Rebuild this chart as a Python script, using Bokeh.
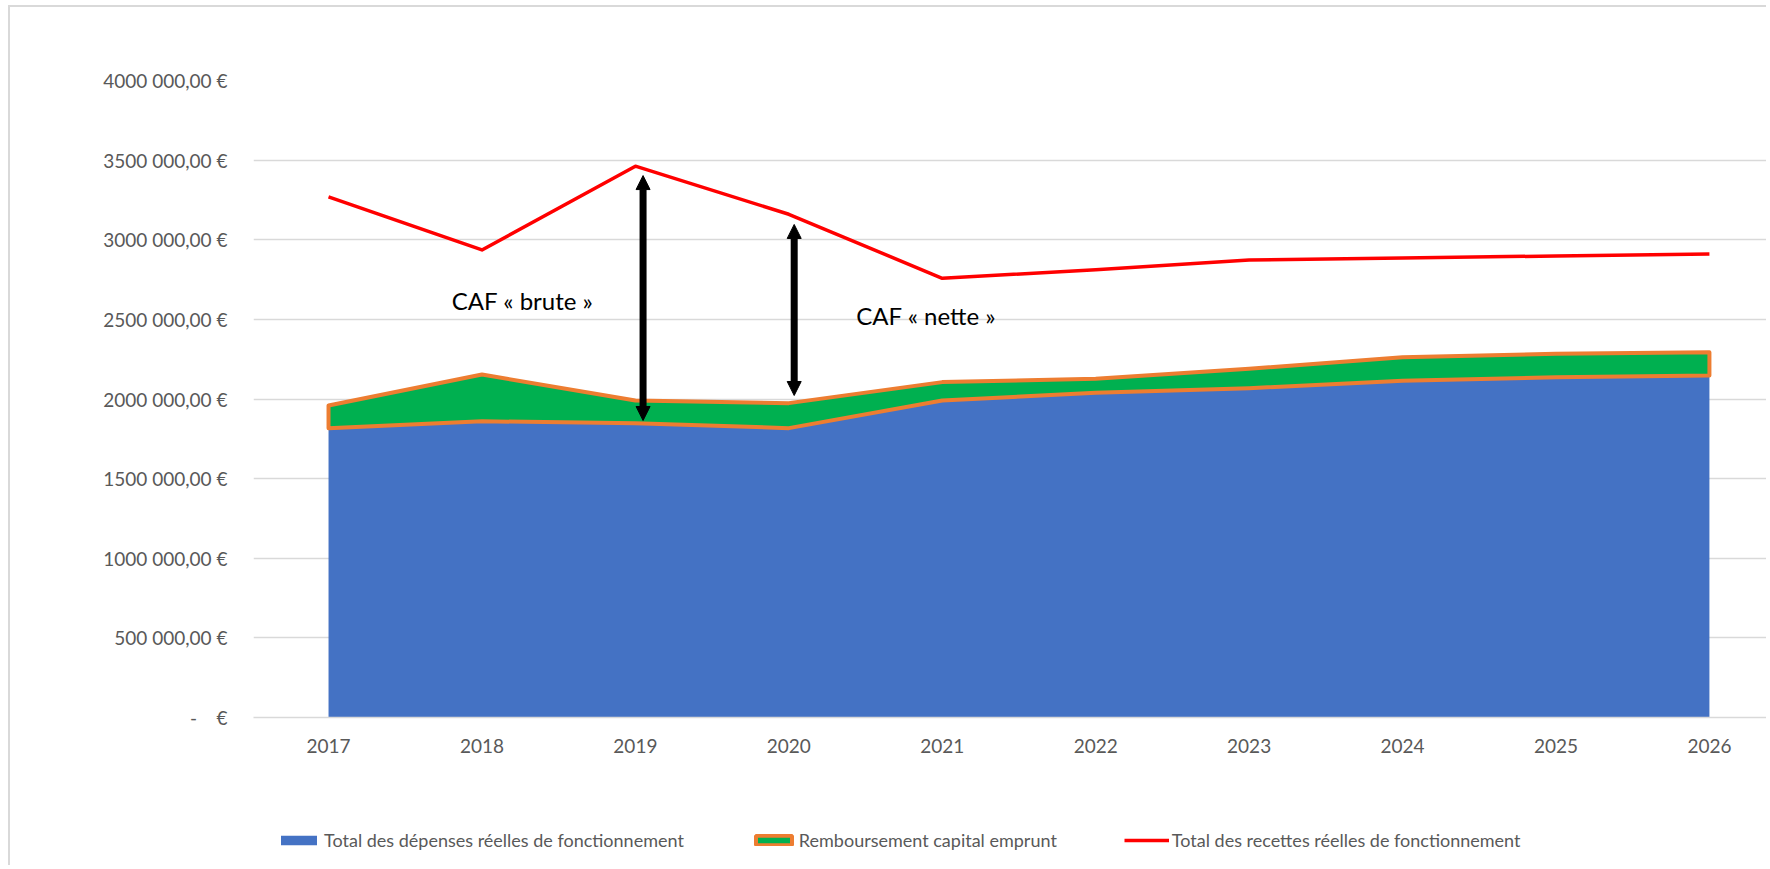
from bokeh.plotting import figure
from bokeh.layouts import column
from bokeh.models import Range1d, FixedTicker, Legend, LegendItem, Arrow, NormalHead, Label
from bokeh.embed import file_html
from bokeh.resources import INLINE

# ---- data ----
years = [2017, 2018, 2019, 2020, 2021, 2022, 2023, 2024, 2025, 2026]
year_labels = ["2017", "2018", "2019", "2020", "2021", "2022", "2023", "2024", "2025", "2026"]
depenses = [1817000, 1860000, 1848000, 1817000, 1990000, 2040000, 2068000, 2114000, 2137000, 2147000]
remboursement = [142000, 294000, 142000, 157000, 116000, 87000, 122000, 148000, 147000, 147000]
recettes = [3269000, 2936000, 3462000, 3160000, 2758000, 2811000, 2873000, 2886000, 2898000, 2911000]
series_names = ["Total des dépenses réelles de fonctionnement",
                "Remboursement capital emprunt",
                "Total des recettes réelles de fonctionnement"]
y_ticks = [0, 500000, 1000000, 1500000, 2000000, 2500000, 3000000, 3500000, 4000000]
y_tick_labels = ["-\u00a0\u00a0\u00a0\u00a0€", "500 000,00 €", "1000 000,00 €", "1500 000,00 €",
                 "2000 000,00 €", "2500 000,00 €", "3000 000,00 €", "3500 000,00 €", "4000 000,00 €"]

# annotations (CAF arrows and labels)
caf_texts = ["CAF « brute »", "CAF « nette »"]
caf_text_x = [2018.265, 2020.895]
caf_text_y = [2618000, 2524000]
arrow_x = [2019.05, 2020.035]
arrow_top = [3403000, 3096000]
arrow_bottom = [1865000, 2022000]

total = [d + r for d, r in zip(depenses, remboursement)]

FONT = "Lato"
GREY_TXT = "#595959"
BLUE, GREEN, ORANGE, RED = "#4472c4", "#00b050", "#ed7d31", "#ff0000"

p = figure(width=1756, height=771, output_backend="svg", toolbar_location=None,
           x_range=Range1d(2016.511, 2026.372), y_range=Range1d(0, 4000000),
           min_border_left=243, min_border_right=0, min_border_top=73, min_border_bottom=61)
p.outline_line_color = None

# areas
p.varea(x=years, y1=0, y2=depenses, fill_color=BLUE)
patch_x = years + years[::-1]
patch_y = total + depenses[::-1]
p.patch(x=patch_x, y=patch_y, fill_color=GREEN, line_color=ORANGE, line_width=4, line_join="round")
p.line(x=years, y=recettes, line_color=RED, line_width=3.5, line_join="round")

# arrows
for xa, yt, yb in zip(arrow_x, arrow_top, arrow_bottom):
    p.add_layout(Arrow(x_start=xa, y_start=yb, x_end=xa, y_end=yt,
                       line_color="black", line_width=7,
                       start=NormalHead(size=14, fill_color="black", line_color="black"),
                       end=NormalHead(size=14, fill_color="black", line_color="black")))
for t, xt, yt in zip(caf_texts, caf_text_x, caf_text_y):
    p.add_layout(Label(x=xt, y=yt, text=t, text_align="center", text_baseline="middle",
                       text_font=FONT, text_font_size="24px", text_color="black"))

# axes
p.xaxis.ticker = FixedTicker(ticks=years)
p.xaxis.major_label_overrides = {y: l for y, l in zip(years, year_labels)}
p.xaxis.major_tick_line_color = None
p.xaxis.minor_tick_line_color = None
p.xaxis.major_tick_out = 0
p.xaxis.axis_line_color = "#d9d9d9"
p.xaxis.axis_line_width = 1.5
p.xaxis.major_label_standoff = 21
p.xaxis.major_label_text_font = FONT
p.xaxis.major_label_text_font_size = "19px"
p.xaxis.major_label_text_color = GREY_TXT

p.yaxis.ticker = FixedTicker(ticks=y_ticks)
p.yaxis.major_label_overrides = {t: l for t, l in zip(y_ticks, y_tick_labels)}
p.yaxis.major_tick_line_color = None
p.yaxis.minor_tick_line_color = None
p.yaxis.major_tick_out = 0
p.yaxis.axis_line_color = None
p.yaxis.major_label_standoff = 26
p.yaxis.major_label_text_font = FONT
p.yaxis.major_label_text_font_size = "19px"
p.yaxis.major_label_text_color = GREY_TXT

p.xgrid.grid_line_color = None
p.ygrid.ticker = FixedTicker(ticks=y_ticks)
p.ygrid.grid_line_color = "#d9d9d9"
p.ygrid.grid_line_width = 1.5

# ---- legend strip (separate figure below the chart; swatch glyphs lie outside its ranges) ----
lf = figure(width=1756, height=87, output_backend="svg", toolbar_location=None,
            x_range=Range1d(0, 1), y_range=Range1d(0, 1), x_axis_type=None, y_axis_type=None,
            min_border_left=0, min_border_right=0, min_border_top=0, min_border_bottom=0)
lf.outline_line_color = None
lf.xgrid.visible = False
lf.ygrid.visible = False
l_blue = lf.varea(x=[5, 6], y1=[5, 5], y2=[6, 6], fill_color=BLUE)
l_green = lf.patch(x=[5, 6, 6], y=[5, 5, 6], fill_color=GREEN, line_color=ORANGE, line_width=4)
l_red = lf.line(x=[5, 6], y=[5, 5], line_color=RED, line_width=3.5)

legend = Legend(items=[LegendItem(label=n, renderers=[r]) for n, r in
                       zip(series_names, [l_blue, l_green, l_red])],
                location=(23, 14), orientation="horizontal",
                glyph_width=45, glyph_height=12, label_standoff=3, spacing=67,
                padding=0, margin=0, border_line_color=None, background_fill_alpha=0,
                label_text_font=FONT, label_text_font_size="18px",
                label_text_color=GREY_TXT, label_height=20)
lf.add_layout(legend, "center")

layout = column(p, lf, spacing=0)
layout.styles = {"margin-left": "8px", "margin-top": "5px",
                 "border-left": "2px solid #d9d9d9", "border-top": "2px solid #d9d9d9"}
open("out.html", "w").write(file_html(layout, INLINE))
